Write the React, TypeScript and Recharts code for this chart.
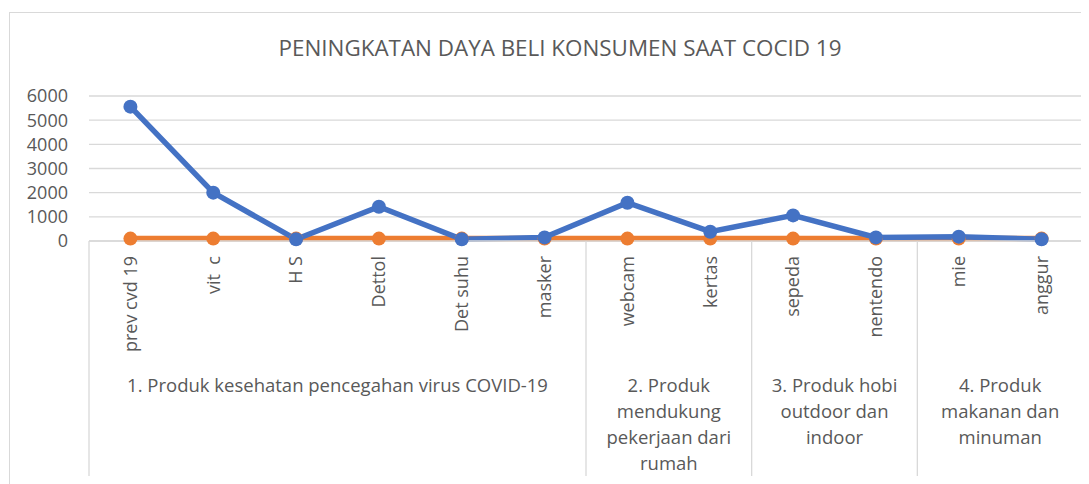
import React from 'react';
import { LineChart, Line, XAxis, YAxis, CartesianGrid } from 'recharts';

const categories = ['prev cvd 19', 'vit  c', 'H S', 'Dettol', 'Det suhu', 'masker', 'webcam', 'kertas', 'sepeda', 'nentendo', 'mie', 'anggur'];
const seriesBlue = [5560, 2000, 70, 1420, 70, 150, 1585, 385, 1060, 150, 180, 70];
const seriesOrange = [100, 100, 100, 100, 100, 100, 100, 100, 100, 100, 100, 100];
const groupSizes = [6, 2, 2, 2];
const groupLabels = [
  ['1. Produk kesehatan pencegahan virus COVID-19'],
  ['2. Produk', 'mendukung', 'pekerjaan dari', 'rumah'],
  ['3. Produk hobi', 'outdoor dan', 'indoor'],
  ['4. Produk', 'makanan dan', 'minuman'],
];
const yTicks = [0, 1000, 2000, 3000, 4000, 5000, 6000];
const title = 'PENINGKATAN DAYA BELI KONSUMEN SAAT COCID 19';

const data = categories.map((c, i) => ({ name: c, blue: seriesBlue[i], orange: seriesOrange[i] }));

const FONT = '"Open Sans", sans-serif';
const TEXT = '#595959';
const GRID = '#d9d9d9';

const groupStarts: number[] = [];
{
  let acc = 0;
  for (const s of groupSizes) { groupStarts.push(acc); acc += s; }
}

const CategoryTick = (props: any) => {
  const { x, y, payload, index } = props;
  const half = payload && payload.offset ? payload.offset : 41.4;
  const elems: React.ReactNode[] = [];
  const ly = y + 15;
  elems.push(
    <text key="l" x={x} y={ly} dy="0.35em" textAnchor="end" transform={`rotate(-90 ${x} ${ly})`}
      fill={TEXT} fontSize={18} fontFamily={FONT} style={{ whiteSpace: 'pre' }}>
      {payload.value}
    </text>
  );
  const gi = groupStarts.indexOf(index);
  if (gi >= 0) {
    const left = x - half;
    elems.push(<line key="s" x1={left} x2={left} y1={y} y2={y + 235} stroke={GRID} strokeWidth={1.3} />);
    const cx = left + groupSizes[gi] * half;
    groupLabels[gi].forEach((t, k) => {
      elems.push(
        <text key={`g${k}`} x={cx} y={y + 145 + k * 26} dy="0.35em" textAnchor="middle" fill={TEXT} fontSize={18.5} fontFamily={FONT}>
          {t}
        </text>
      );
    });
  }
  if (index === categories.length - 1) {
    const right = x + half;
    elems.push(<line key="r" x1={right} x2={right} y1={y} y2={y + 235} stroke={GRID} strokeWidth={1.3} />);
  }
  return <g>{elems}</g>;
};

export default function App() {
  return (
    <div style={{ position: 'relative', width: 1081, height: 476, overflow: 'hidden', background: '#fff' }}>
      <div style={{ position: 'absolute', left: 1, top: 4, width: 1200, height: 600, borderLeft: `1.5px solid ${GRID}`, borderTop: `1.5px solid ${GRID}` }} />
      <div style={{ position: 'absolute', left: 552, top: 26, transform: 'translateX(-50%)', whiteSpace: 'nowrap', fontFamily: FONT, fontSize: 22.4, lineHeight: '28px', color: TEXT }}>
        {title}
      </div>
      <div style={{ position: 'absolute', left: 0, top: 0 }}>
        <LineChart width={1081} height={476} data={data} margin={{ top: 88, right: 6, bottom: 0, left: 0 }}>
          <CartesianGrid horizontal vertical={false} stroke={GRID} strokeWidth={1.3} />
          <XAxis dataKey="name" scale="band" height={243} tickLine={false} tickSize={0} tickMargin={0} axisLine={{ stroke: GRID, strokeWidth: 1.3 }} interval={0} tick={<CategoryTick />} />
          <YAxis width={81} domain={[0, 6000]} ticks={yTicks} interval={0} tickLine={false} axisLine={false} tickSize={0} tickMargin={21}
            tick={{ fill: TEXT, fontSize: 18, fontFamily: FONT }} />
          <Line dataKey="orange" stroke="#ED7D31" strokeWidth={5.5} dot={{ r: 7, fill: '#ED7D31', stroke: '#ED7D31', strokeWidth: 0 }} isAnimationActive={false} />
          <Line dataKey="blue" stroke="#4472C4" strokeWidth={5.5} dot={{ r: 7, fill: '#4472C4', stroke: '#4472C4', strokeWidth: 0 }} isAnimationActive={false} />
        </LineChart>
      </div>
    </div>
  );
}
